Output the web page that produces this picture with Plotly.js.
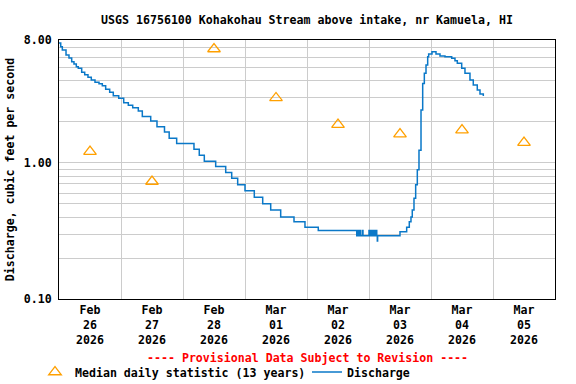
<!DOCTYPE html>
<html>
<head>
<meta charset="utf-8">
<script src="https://cdn.plot.ly/plotly-3.0.1.min.js"></script>
<style>html,body{margin:0;padding:0;background:#fff;}#chart{width:576px;height:384px;}</style>
</head>
<body>
<div id="chart"></div>
<script>
const chartTitle = "USGS 16756100 Kohakohau Stream above intake, nr Kamuela, HI";
const yAxisTitle = "Discharge, cubic feet per second";
const provisionalNote = "---- Provisional Data Subject to Revision ----";

const dischargeTimes = [
  "2026-02-26 00:00","2026-02-26 00:40","2026-02-26 01:17","2026-02-26 02:43","2026-02-26 03:52",
  "2026-02-26 04:55","2026-02-26 05:48","2026-02-26 06:42","2026-02-26 07:28","2026-02-26 08:47",
  "2026-02-26 09:57","2026-02-26 11:13","2026-02-26 12:30","2026-02-26 13:56","2026-02-26 15:29",
  "2026-02-26 16:46","2026-02-26 18:04","2026-02-26 19:37","2026-02-26 21:01","2026-02-26 23:07",
  "2026-02-27 01:03","2026-02-27 02:50","2026-02-27 04:32","2026-02-27 06:42","2026-02-27 08:15",
  "2026-02-27 11:30","2026-02-27 13:56","2026-02-27 16:50","2026-02-27 18:39","2026-02-27 21:33",
  "2026-02-28 04:15","2026-02-28 06:18","2026-02-28 08:15","2026-02-28 12:39","2026-02-28 16:32",
  "2026-02-28 18:51","2026-02-28 21:10","2026-03-01 00:00","2026-03-01 03:36","2026-03-01 06:51",
  "2026-03-01 09:57","2026-03-01 13:49","2026-03-01 18:58","2026-03-01 23:13","2026-03-02 04:22",
  "2026-03-02 19:15","2026-03-02 19:40","2026-03-02 20:05","2026-03-02 20:25","2026-03-02 20:48",
  "2026-03-02 21:33","2026-03-02 21:40","2026-03-03 00:00","2026-03-03 00:25","2026-03-03 00:50",
  "2026-03-03 01:20","2026-03-03 01:50","2026-03-03 02:20","2026-03-03 02:50","2026-03-03 03:00",
  "2026-03-03 03:13","2026-03-03 03:20","2026-03-03 12:00","2026-03-03 14:35","2026-03-03 15:36",
  "2026-03-03 16:15","2026-03-03 16:45","2026-03-03 17:25","2026-03-03 18:04","2026-03-03 18:42",
  "2026-03-03 19:21","2026-03-03 20:08","2026-03-03 20:47","2026-03-03 21:25","2026-03-03 22:04",
  "2026-03-03 22:43","2026-03-03 23:06","2026-03-04 00:23","2026-03-04 01:56","2026-03-04 03:29",
  "2026-03-04 05:25","2026-03-04 08:01","2026-03-04 09:17","2026-03-04 10:11","2026-03-04 11:53",
  "2026-03-04 13:09","2026-03-04 15:05","2026-03-04 16:22","2026-03-04 17:55","2026-03-04 18:58",
  "2026-03-04 20:15"
];
const dischargeValues = [
  7.6, 7.14, 6.75, 6.21, 5.90,
  5.54, 5.33, 5.09, 4.96, 4.63,
  4.45, 4.26, 4.07, 3.91, 3.82,
  3.69, 3.47, 3.30, 3.12, 2.98,
  2.77, 2.65, 2.54, 2.41, 2.19,
  2.03, 1.84, 1.69, 1.52, 1.39,
  1.26, 1.14, 1.03, 0.94, 0.85,
  0.77, 0.69, 0.625, 0.56, 0.50,
  0.45, 0.40, 0.37, 0.336, 0.318,
  0.292, 0.318, 0.292, 0.318, 0.292,
  0.318, 0.292, 0.318, 0.292, 0.318,
  0.292, 0.318, 0.292, 0.318, 0.292,
  0.267, 0.292, 0.312, 0.336, 0.37,
  0.40, 0.45, 0.55, 0.69, 0.89,
  1.24, 2.45, 3.84, 4.55, 5.24,
  6.03, 6.31, 6.56, 6.31, 6.10,
  6.03, 5.87, 5.64, 5.39, 4.96,
  4.55, 4.07, 3.74, 3.43, 3.21,
  3.10
];

const medianDates = ["2026-02-26 12:00","2026-02-27 12:00","2026-02-28 12:00","2026-03-01 12:00",
                     "2026-03-02 12:00","2026-03-03 12:00","2026-03-04 12:00","2026-03-05 12:00"];
const medianValues = [1.21, 0.73, 6.87, 3.00, 1.91, 1.63, 1.74, 1.41];

const yTickVals = [0.1,0.2,0.3,0.4,0.5,0.6,0.7,0.8,0.9,1,2,3,4,5,6,7,8];
const yTickText = ["0.10","","","","","","","","","1.00","","","","","","","8.00"];

const FONT = "DejaVu Sans Mono, Liberation Mono, monospace";

const traces = [
  {
    x: medianDates, y: medianValues, type: "scatter", mode: "markers",
    name: "Median daily statistic (13 years)",
    marker: {symbol: "triangle-up-open", size: 11, color: "#ffa000", line: {width: 1.3, color: "#ffa000"}},
    legend: "legend"
  },
  {
    x: dischargeTimes, y: dischargeValues, type: "scatter", mode: "lines",
    name: "Discharge",
    line: {shape: "hv", color: "#0a78c8", width: 1.5},
    legend: "legend2"
  }
];

const layout = {
  width: 576, height: 384,
  margin: {l: 59, r: 21, t: 40, b: 85},
  paper_bgcolor: "#fff", plot_bgcolor: "#fff",
  font: {family: FONT, size: 11.6, color: "#000", weight: "bold"},
  title: {text: chartTitle, x: 0.5, xref: "paper", xanchor: "center", y: 1 - 20/384, yanchor: "middle",
          font: {family: FONT, size: 11.6, color: "#000", weight: "bold"}},
  xaxis: {
    type: "date", range: ["2026-02-26", "2026-03-06"],
    tick0: "2026-02-26", dtick: 86400000, tickformat: "%b<br>%d<br>%Y",
    ticklabelmode: "period", ticks: "", showgrid: true, gridcolor: "#cccccc", gridwidth: 1,
    showline: true, mirror: true, linecolor: "#000", linewidth: 1, zeroline: false, automargin: false,
    tickfont: {family: FONT, size: 11.6, color: "#000", weight: "bold"}
  },
  yaxis: {
    type: "log", range: [-1, Math.log10(8)],
    tickmode: "array", tickvals: yTickVals, ticktext: yTickText,
    ticks: "", showgrid: true, gridcolor: "#cccccc", gridwidth: 1,
    showline: true, mirror: true, linecolor: "#000", linewidth: 1, zeroline: false, automargin: false,
    ticklabelstandoff: 4,
    tickfont: {family: FONT, size: 11.6, color: "#000", weight: "bold"},
    title: {text: yAxisTitle, standoff: 6, font: {family: FONT, size: 11.6, color: "#000", weight: "bold"}}
  },
  showlegend: true,
  legend: {orientation: "h", xref: "container", yref: "container", x: 35/576, xanchor: "left",
           y: 1 - 372/384, yanchor: "middle",
           font: {family: FONT, size: 11.6, color: "#000", weight: "bold"}, bgcolor: "rgba(0,0,0,0)"},
  legend2: {orientation: "h", xref: "container", yref: "container", x: 307/576, xanchor: "left",
           y: 1 - 372/384, yanchor: "middle",
           font: {family: FONT, size: 11.6, color: "#000", weight: "bold"}, bgcolor: "rgba(0,0,0,0)"},
  annotations: [
    {text: provisionalNote, xref: "paper", yref: "paper", x: 0.5, y: -0.228, yanchor: "middle",
     showarrow: false, font: {family: FONT, size: 11.6, color: "#ff0000", weight: "bold"}}
  ]
};

Plotly.newPlot("chart", traces, layout, {staticPlot: true, displayModeBar: false});
</script>
</body>
</html>
